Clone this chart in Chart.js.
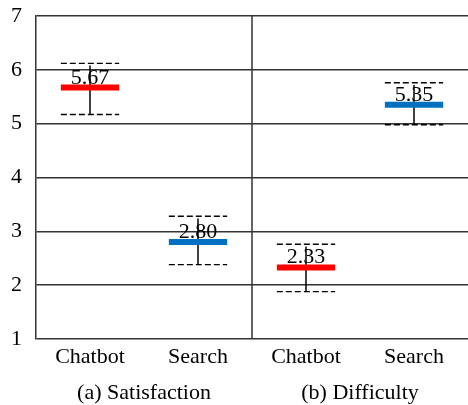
<!DOCTYPE html>
<html>
<head>
<meta charset="utf-8">
<script src="https://cdn.jsdelivr.net/npm/chart.js@4"></script>
<style>
    html, body { margin: 0; padding: 0; background: #fff; }
    #wrap { width: 468px; height: 405px; }
</style>
</head>
<body>
<div id="wrap"><canvas id="chart" width="468" height="405"></canvas></div>
<script>
// chart values
const categories = ['Chatbot', 'Search', 'Chatbot', 'Search'];
const groups = ['(a) Satisfaction', '(b) Difficulty'];
const means = [5.67, 2.80, 2.33, 5.35];
const upper = [6.12, 3.28, 2.76, 5.76];
const lower = [5.17, 2.38, 1.88, 4.98];
const meanColors = ['#ff0000', '#0070c0', '#ff0000', '#0070c0'];
const yTicks = [1, 2, 3, 4, 5, 6, 7];

const FONT = '"Liberation Serif", "Times New Roman", serif';
const halfWidth = 0.27;

function segment(i, v) {
    return [{ x: i - halfWidth, y: v }, { x: i + halfWidth, y: v }];
}

const datasets = [];
categories.forEach((c, i) => {
    // dashed bounds
    datasets.push({ data: segment(i, upper[i]), borderColor: '#000', borderWidth: 1.3, borderDash: [6, 3] });
    datasets.push({ data: segment(i, lower[i]), borderColor: '#000', borderWidth: 1.3, borderDash: [6, 3] });
    // mean bar
    datasets.push({ data: segment(i, means[i]), borderColor: meanColors[i], borderWidth: 6 });
    // vertical error line
    datasets.push({ data: [{ x: i, y: lower[i] }, { x: i, y: upper[i] - 0.04 }], borderColor: '#000', borderWidth: 1.5 });
});

// divider between the two groups
const divider = categories.length / 2 - 0.5;
datasets.push({
    data: [{ x: divider, y: yTicks[0] }, { x: divider, y: yTicks[yTicks.length - 1] }],
    borderColor: '#333', borderWidth: 1.5
});

const labelPlugin = {
    id: 'labels',
    beforeDatasetsDraw(chart) {
        const { ctx, scales: { x, y } } = chart;
        ctx.save();
        ctx.font = '22px ' + FONT;
        ctx.fillStyle = '#000';
        ctx.textAlign = 'center';
        ctx.textBaseline = 'alphabetic';
        means.forEach((m, i) => {
            ctx.fillText(m.toFixed(2), x.getPixelForValue(i), y.getPixelForValue(m) - 4);
        });
        ctx.restore();
    },
    afterDraw(chart) {
        const { ctx, scales: { x } } = chart;
        ctx.save();
        ctx.font = '22px ' + FONT;
        ctx.fillStyle = '#000';
        ctx.textAlign = 'center';
        ctx.textBaseline = 'middle';
        groups.forEach((g, k) => {
            const mid = k * 2 + 0.5;
            ctx.fillText(g, x.getPixelForValue(mid), 393);
        });
        ctx.restore();
    }
};

new Chart(document.getElementById('chart'), {
    type: 'scatter',
    data: { datasets: datasets.map(d => Object.assign({ showLine: true, pointRadius: 0, fill: false }, d)) },
    options: {
        responsive: false,
        animation: false,
        layout: { padding: { top: 16, right: 0, left: 0, bottom: 0 } },
        plugins: { legend: { display: false }, tooltip: { enabled: false } },
        scales: {
            x: {
                type: 'linear',
                min: -0.5,
                max: categories.length - 0.5,
                afterBuildTicks: axis => { axis.ticks = categories.map((c, i) => ({ value: i })); },
                afterFit: axis => { axis.height = 66; axis.paddingLeft = 0; axis.paddingRight = 0; },
                ticks: {
                    callback: (v) => categories[v],
                    font: { family: FONT, size: 22 },
                    color: '#000',
                    padding: 5,
                    maxRotation: 0,
                    autoSkip: false
                },
                grid: { display: false, drawTicks: false },
                border: { display: false }
            },
            y: {
                min: yTicks[0],
                max: yTicks[yTicks.length - 1],
                afterBuildTicks: axis => { axis.ticks = yTicks.map(v => ({ value: v })); },
                afterFit: axis => { axis.width = 36; axis.paddingTop = 0; axis.paddingBottom = 0; },
                ticks: {
                    font: { family: FONT, size: 22 },
                    color: '#000',
                    padding: 14
                },
                grid: { color: '#333', lineWidth: 1.5, drawTicks: false },
                border: { display: true, color: '#333', width: 1.5 }
            }
        }
    },
    plugins: [labelPlugin]
});
</script>
</body>
</html>
